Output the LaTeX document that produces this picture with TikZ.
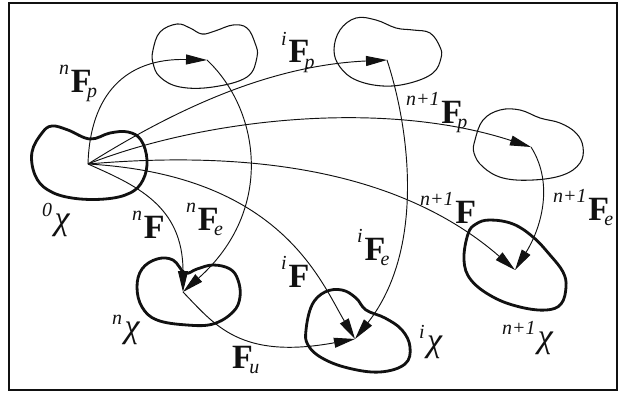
\documentclass[tikz,border=0pt]{standalone}
\usepackage{fontspec}
\setmainfont{Liberation Serif}
\usetikzlibrary{arrows.meta}
\definecolor{Ink}{HTML}{111111}

\newcommand{\supfont}{\fontsize{17}{17}\selectfont\itshape}
\newcommand{\Fsup}[1]{\raisebox{15pt}{\supfont #1}\kern1.5pt\textbf{F}}
\newcommand{\Fsub}[2]{\raisebox{15pt}{\supfont #1}\kern1.5pt\textbf{F}\kern-4pt\raisebox{-5pt}{\supfont #2}}
\newcommand{\Chisup}[1]{\raisebox{11pt}{\supfont #1}\kern2pt{\itshape χ}}

\begin{document}
\begin{tikzpicture}[x=0.03cm,y=-0.03cm,
  thinblob/.style={Ink,line width=0.9pt},
  thickblob/.style={Ink,line width=2.4pt},
  force/.style={Ink,line width=0.8pt,-{Triangle[length=6.3mm,width=3mm]}},
  lbl/.style={anchor=base west,inner sep=0pt,text=Ink,font=\fontsize{29}{29}\selectfont}]
\useasboundingbox (0,0) rectangle (626,394);
\draw[Ink,line width=1.6pt] (9,3) rectangle (617,390);
\coordinate (X0) at (88,164);
\coordinate (Xnp) at (207,60);
\coordinate (Xip) at (387,60);
\coordinate (Xnp1) at (531,147);
\coordinate (Xn) at (183,292);
\coordinate (Xi) at (355,339);
\coordinate (Xn1) at (515,270);
\draw[thickblob] plot[smooth cycle,tension=0.65] coordinates {(32,152) (42,133) (52,126) (68,130) (90,139) (110,133) (128,132) (141,140) (147,160) (143,180) (130,193) (105,199) (72,198) (48,190) (35,175)};
\draw[thinblob] plot[smooth cycle,tension=0.65] coordinates {(153,50) (160,32) (177,24) (190,28) (202,34) (215,31) (233,25) (247,28) (255,43) (257,57) (247,77) (213,87) (180,87) (160,77) (153,63)};
\draw[thinblob] plot[smooth cycle,tension=0.65] coordinates {(334,50) (340,30) (356,18) (376,20) (396,28) (413,30) (430,33) (440,47) (441,58) (433,73) (410,83) (383,86) (356,80) (340,67)};
\draw[thinblob] plot[smooth cycle,tension=0.65] coordinates {(475,140) (483,120) (500,110) (520,110) (540,118) (560,123) (576,133) (583,147) (580,163) (563,175) (533,180) (503,178) (483,167) (474,153)};
\draw[thickblob] plot[smooth cycle,tension=0.65] coordinates {(137,287) (142,269) (157,259) (173,260) (185,273) (197,269) (213,265) (230,269) (238,280) (240,297) (233,312) (213,324) (187,325) (157,320) (142,307)};
\draw[thickblob] plot[smooth cycle,tension=0.65] coordinates {(306,330) (312,305) (325,292) (342,290) (356,298) (366,310) (385,318) (402,330) (410,347) (405,364) (380,372) (348,368) (322,358) (308,345)};
\draw[thickblob] plot[smooth cycle,tension=0.65] coordinates {(476,224) (490,220) (513,224) (533,237) (550,255) (563,272) (566,287) (561,304) (546,310) (520,307) (493,297) (471,280) (464,260) (468,234)};
\draw[force] (X0) .. controls (90,95) and (125,58) .. (Xnp);
\draw[force] (X0) .. controls (190,100) and (280,65) .. (Xip);
\draw[force] (X0) .. controls (200,120) and (380,98) .. (Xnp1);
\draw[force] (X0) .. controls (250,150) and (400,170) .. (Xn1);
\draw[force] (X0) .. controls (280,175) and (320,280) .. (Xi);
\draw[force] (X0) .. controls (135,185) and (183,205) .. (Xn);
\draw[force] (Xnp) .. controls (260,110) and (275,210) .. (Xn);
\draw[force] (Xip) .. controls (410,130) and (425,250) .. (Xi);
\draw[force] (Xnp1) .. controls (555,185) and (540,230) .. (Xn1);
\draw[force] (Xn) .. controls (215,325) and (240,360) .. (Xi);
\node[lbl] (lnFp) at (59,92) {\Fsub{n}{p}};
\node[lbl] (liFp) at (281,63) {\Fsub{i}{p}};
\node[lbl] (ln1Fp) at (406,123) {\Fsub{n+1}{p}};
\node[lbl] (l0chi) at (42,229) {\Chisup{0}};
\node[lbl] (lnF) at (132,238) {\Fsup{n}};
\node[lbl] (lnFe) at (186,230) {\Fsub{n}{e}};
\node[lbl] (lnchi) at (112,337) {\Chisup{n}};
\node[lbl] (lFu) at (232,368) {\textbf{F}\kern-3pt\raisebox{-5pt}{\supfont u}};
\node[lbl] (liF) at (281,287) {\Fsup{i}};
\node[lbl] (liFe) at (357,260) {\Fsub{i}{e}};
\node[lbl] (lichi) at (419,351) {\Chisup{i}};
\node[lbl] (ln1F) at (420,223) {\Fsup{n+1}};
\node[lbl] (ln1Fe) at (553,220) {\Fsub{n+1}{e}};
\node[lbl] (ln1chi) at (502,347) {\Chisup{n+1}};
\end{tikzpicture}
\end{document}
